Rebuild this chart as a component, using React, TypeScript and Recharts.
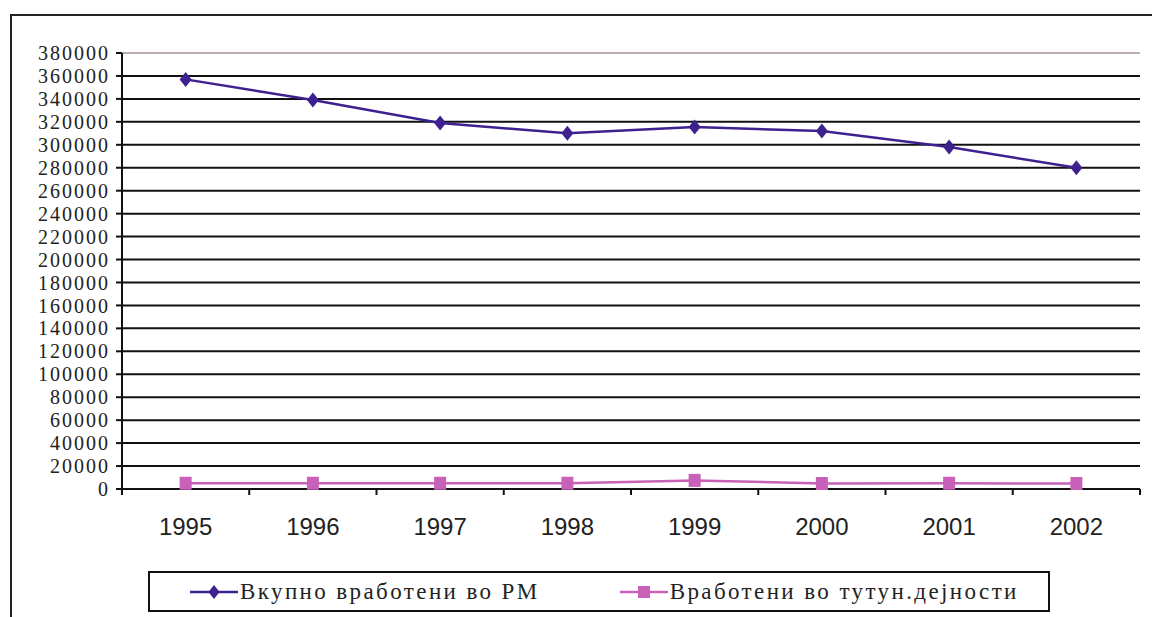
import React from "react";
import {
  LineChart,
  Line,
  XAxis,
  YAxis,
  CartesianGrid,
  Legend,
  ReferenceLine,
} from "recharts";

const years = ["1995", "1996", "1997", "1998", "1999", "2000", "2001", "2002"];
const totalEmployed = [357000, 339000, 319000, 310000, 315500, 312000, 298000, 280000];
const tobaccoEmployed = [5000, 5000, 5000, 5000, 7500, 4800, 5000, 4800];
const yTicks = [
  0, 20000, 40000, 60000, 80000, 100000, 120000, 140000, 160000, 180000,
  200000, 220000, 240000, 260000, 280000, 300000, 320000, 340000, 360000, 380000,
];
const seriesNames = ["Вкупно вработени во РМ", "Вработени во тутун.дејности"];
const seriesColors = ["#3d2190", "#c862b8"];

const data = years.map((year, i) => ({
  year,
  total: totalEmployed[i],
  tobacco: tobaccoEmployed[i],
}));

const serif = "'Liberation Serif', 'Times New Roman', serif";
const sans = "'Liberation Sans', Arial, sans-serif";

const Diamond = (props: any) => {
  const { cx, cy, fill } = props;
  if (cx == null || cy == null) return null;
  return (
    <path
      d={`M${cx},${cy - 7.5}L${cx + 6},${cy}L${cx},${cy + 7.5}L${cx - 6},${cy}Z`}
      fill={fill}
    />
  );
};

const Square = (props: any) => {
  const { cx, cy, fill } = props;
  if (cx == null || cy == null) return null;
  return <rect x={cx - 6} y={cy - 6.5} width={12} height={13} fill={fill} />;
};

// excel style ticks sit between the categories
const YearTick = (props: any) => {
  const { x, y, payload, index, visibleTicksCount } = props;
  const half = payload?.offset || 63.6;
  const last = index === visibleTicksCount - 1;
  return (
    <g>
      <line x1={x - half} x2={x - half} y1={y - 6} y2={y} stroke="#111" strokeWidth={2} />
      {last && (
        <line x1={x + half} x2={x + half} y1={y - 6} y2={y} stroke="#111" strokeWidth={2} />
      )}
      <text x={x} y={y + 40} textAnchor="middle" fontFamily={sans} fontSize={24} fill="#222">
        {payload.value}
      </text>
    </g>
  );
};

const LegendBox = () => (
  <div
    style={{
      boxSizing: "border-box",
      border: "2px solid #111",
      height: 41,
      display: "flex",
      alignItems: "center",
      fontFamily: serif,
      fontSize: 23,
      letterSpacing: 2.4,
      color: "#222",
      paddingLeft: 40,
      background: "#fff",
      whiteSpace: "nowrap",
    }}
  >
    {seriesNames.map((name, i) => (
      <div key={name} style={{ display: "flex", alignItems: "center", marginRight: 80 }}>
        <svg width={48} height={16} style={{ marginRight: 2 }}>
          <line x1={0} x2={48} y1={8} y2={8} stroke={seriesColors[i]} strokeWidth={2.5} />
          {i === 0 ? (
            <path d="M24,1L29.5,8L24,15L18.5,8Z" fill={seriesColors[i]} />
          ) : (
            <rect x={18} y={2} width={12} height={12} fill={seriesColors[i]} />
          )}
        </svg>
        <span>{name}</span>
      </div>
    ))}
  </div>
);

export default function App() {
  return (
    <div
      style={{
        position: "absolute",
        left: 0,
        top: 0,
        width: 1152,
        height: 617,
        overflow: "hidden",
        background: "#fff",
      }}
    >
      <div
        style={{
          position: "absolute",
          left: 10,
          top: 14,
          width: 1200,
          height: 700,
          borderLeft: "2px solid #222",
          borderTop: "2px solid #222",
        }}
      />
      <div style={{ position: "absolute", left: 0, top: 0 }}>
        <LineChart
          width={1152}
          height={617}
          data={data}
          margin={{ top: 53, right: 12, bottom: 88, left: 0 }}
        >
          <CartesianGrid
            yAxisId="left"
            vertical={false}
            horizontalValues={yTicks.slice(1, -1)}
            stroke="#111"
            strokeWidth={2}
            strokeDasharray=""
          />
          <XAxis
            dataKey="year"
            scale="band"
            interval={0}
            height={40}
            tickSize={6}
            tickMargin={0}
            tickLine={false}
            axisLine={{ stroke: "#111", strokeWidth: 2 }}
            tick={<YearTick />}
          />
          <YAxis
            yAxisId="left"
            width={122}
            domain={[0, 380000]}
            ticks={yTicks}
            interval={0}
            tickSize={6}
            tickMargin={6}
            tickLine={{ stroke: "#111", strokeWidth: 2 }}
            axisLine={{ stroke: "#111", strokeWidth: 2 }}
            tick={{ fontFamily: serif, fontSize: 20, fill: "#222", letterSpacing: 2 }}
          />
          <YAxis
            yAxisId="right"
            orientation="right"
            width={0}
            domain={[0, 380000]}
            tick={false}
            tickLine={false}
            axisLine={{ stroke: "#a39393", strokeWidth: 1.5 }}
          />
          <ReferenceLine yAxisId="left" y={380000} stroke="#a39393" strokeWidth={1.5} />
          <Legend
            verticalAlign="middle"
            align="center"
            layout="horizontal"
            wrapperStyle={{ left: 148, top: 571, width: 902 }}
            content={<LegendBox />}
          />
          <Line
            yAxisId="left"
            type="linear"
            dataKey="total"
            name={seriesNames[0]}
            stroke={seriesColors[0]}
            strokeWidth={2.5}
            dot={<Diamond fill={seriesColors[0]} />}
            isAnimationActive={false}
          />
          <Line
            yAxisId="left"
            type="linear"
            dataKey="tobacco"
            name={seriesNames[1]}
            stroke={seriesColors[1]}
            strokeWidth={2.5}
            dot={<Square fill={seriesColors[1]} />}
            isAnimationActive={false}
          />
        </LineChart>
      </div>
    </div>
  );
}
